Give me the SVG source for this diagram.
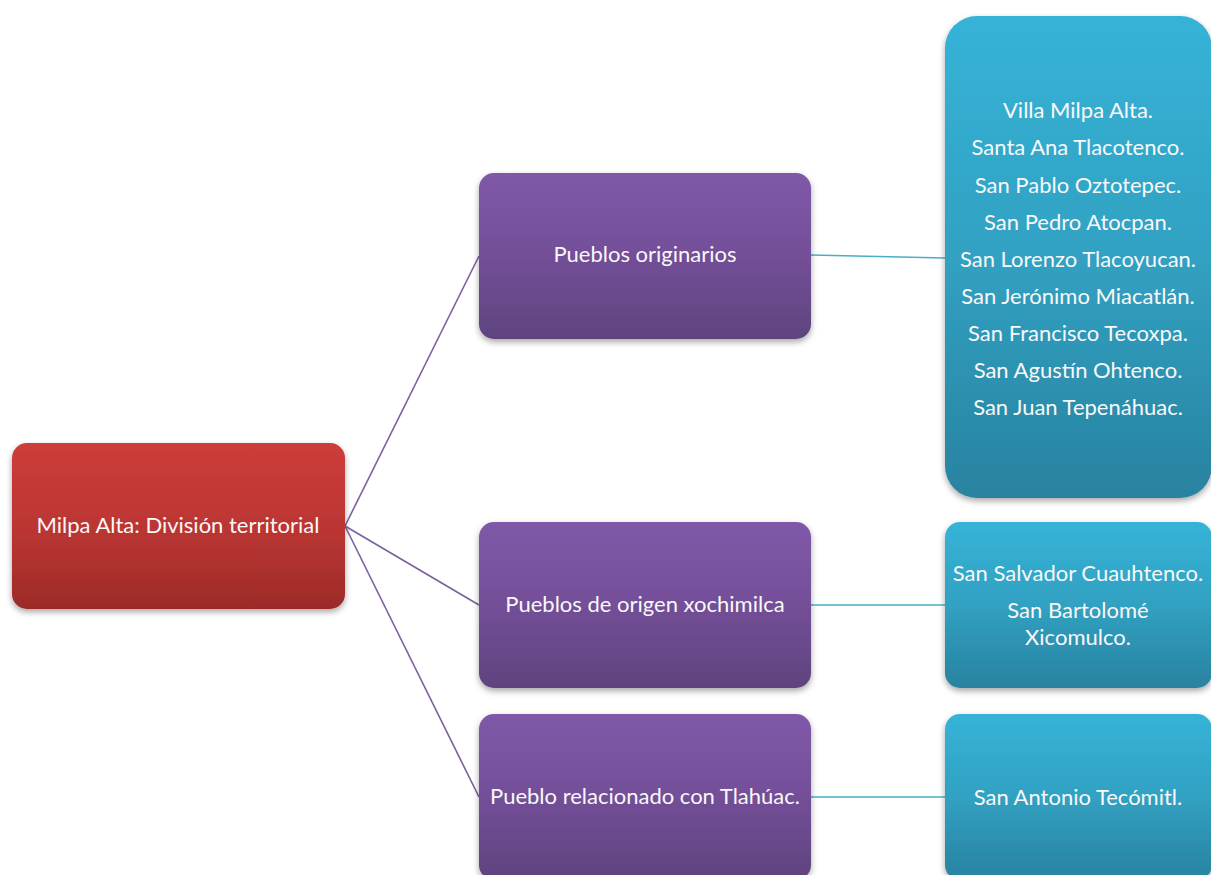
<svg xmlns="http://www.w3.org/2000/svg" width="1211" height="875" viewBox="0 0 1211 875">
<defs>
<linearGradient id="gRed" x1="0" y1="0" x2="0" y2="1"><stop offset="0" stop-color="#cd3c3a"/><stop offset="0.5" stop-color="#bc3633"/><stop offset="1" stop-color="#9c2b28"/></linearGradient>
<linearGradient id="gPur" x1="0" y1="0" x2="0" y2="1"><stop offset="0" stop-color="#7f59a8"/><stop offset="0.5" stop-color="#734f98"/><stop offset="1" stop-color="#5f437e"/></linearGradient>
<linearGradient id="gBlu" x1="0" y1="0" x2="0" y2="1"><stop offset="0" stop-color="#36b3d7"/><stop offset="0.5" stop-color="#31a1c2"/><stop offset="1" stop-color="#2982a0"/></linearGradient>
<filter id="sh" x="-10%" y="-10%" width="120%" height="130%"><feDropShadow dx="0" dy="3" stdDeviation="3" flood-color="#000" flood-opacity="0.35"/></filter>
</defs>
<style>
text{font-family:Lato,"Liberation Sans",sans-serif;font-size:22px;fill:#f8f8f8;text-anchor:middle}
.pl{stroke:#7c5fa0;stroke-width:1.6;fill:none}
.bl{stroke:#4aaec9;stroke-width:1.6;fill:none}
</style>
<rect width="1211" height="875" fill="#fff"/>
<g id="connectors">
<line class="pl" x1="345" y1="526" x2="479" y2="256"/>
<line class="pl" x1="345" y1="526" x2="479" y2="605"/>
<line class="pl" x1="345" y1="526" x2="479" y2="797"/>
<line class="bl" x1="811" y1="255" x2="945" y2="258"/>
<line class="bl" x1="811" y1="605" x2="945" y2="605"/>
<line class="bl" x1="811" y1="797" x2="945" y2="797"/>
</g>
<g id="root">
<rect x="12" y="443" width="333" height="166" rx="15" fill="url(#gRed)" filter="url(#sh)"/>
<text x="178" y="533">Milpa Alta: División territorial</text>
</g>
<g id="pueblos-originarios">
<rect x="479" y="173" width="332" height="166" rx="15" fill="url(#gPur)" filter="url(#sh)"/>
<text x="645" y="262">Pueblos originarios</text>
</g>
<g id="pueblos-xochimilca">
<rect x="479" y="522" width="332" height="166" rx="15" fill="url(#gPur)" filter="url(#sh)"/>
<text x="645" y="612">Pueblos de origen xochimilca</text>
</g>
<g id="pueblo-tlahuac">
<rect x="479" y="714" width="332" height="166" rx="15" fill="url(#gPur)" filter="url(#sh)"/>
<text x="645" y="804">Pueblo relacionado con Tlahúac.</text>
</g>
<g id="lista-originarios">
<rect x="945" y="16" width="267" height="482" rx="32" fill="url(#gBlu)" filter="url(#sh)"/>
<text x="1078" y="118">Villa Milpa Alta.</text>
<text x="1078" y="155">Santa Ana Tlacotenco.</text>
<text x="1078" y="193">San Pablo Oztotepec.</text>
<text x="1078" y="230">San Pedro Atocpan.</text>
<text x="1078" y="267">San Lorenzo Tlacoyucan.</text>
<text x="1078" y="304">San Jerónimo Miacatlán.</text>
<text x="1078" y="341">San Francisco Tecoxpa.</text>
<text x="1078" y="378">San Agustín Ohtenco.</text>
<text x="1078" y="415">San Juan Tepenáhuac.</text>
</g>
<g id="lista-xochimilca">
<rect x="945" y="522" width="267" height="166" rx="15" fill="url(#gBlu)" filter="url(#sh)"/>
<text x="1078" y="581">San Salvador Cuauhtenco.</text>
<text x="1078" y="618">San Bartolomé</text>
<text x="1078" y="645">Xicomulco.</text>
</g>
<g id="lista-tlahuac">
<rect x="945" y="714" width="267" height="166" rx="15" fill="url(#gBlu)" filter="url(#sh)"/>
<text x="1078" y="805">San Antonio Tecómitl.</text>
</g>
</svg>
